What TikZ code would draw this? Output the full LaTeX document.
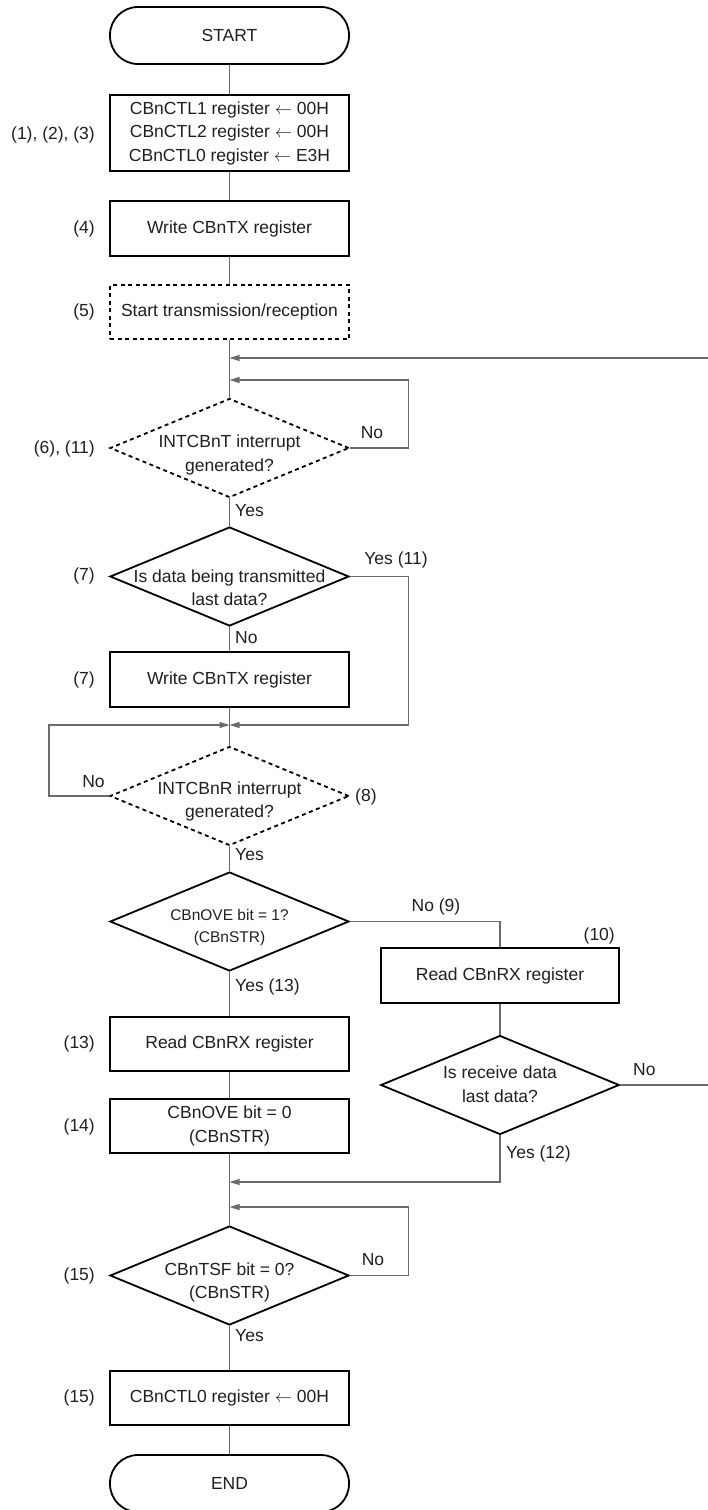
\documentclass[tikz,border=0pt]{standalone}
\usepackage{fontspec}
\setmainfont{Liberation Sans}
\usetikzlibrary{shapes.geometric,arrows.meta}
\begin{document}
\begin{tikzpicture}[x=1pt,y=-1pt,
  font=\fontsize{17.5}{23.5}\selectfont,
  every node/.style={text=black!88},
  box/.style={draw=black,line width=1.8pt,rectangle,minimum width=239pt,inner sep=0pt,align=center},
  dbox/.style={box,dash pattern=on 4pt off 3.5pt},
  term/.style={draw=black,line width=1.8pt,rectangle,rounded corners=28pt,minimum width=239pt,minimum height=57pt,inner sep=0pt},
  dia/.style={draw=black,line width=1.8pt,diamond,inner sep=0pt,minimum width=239pt,minimum height=99pt},
  ddia/.style={dia,dash pattern=on 4pt off 3.5pt},
  txt/.style={align=center,inner sep=0pt},
  lbl/.style={inner sep=0pt},
  conn/.style={draw=black!58,line width=1.3pt},
  arr/.style={conn,-{Triangle[length=10pt,width=6pt]}}
]
\useasboundingbox (0,0) rectangle (707,1510);

% main column
\node[term] (start) at (229.5,35.5) {START};
\node[box,minimum height=76pt] (b1) at (229.5,133) {CBnCTL1 register $\leftarrow$ 00H\\CBnCTL2 register $\leftarrow$ 00H\\CBnCTL0 register $\leftarrow$ E3H};
\node[box,minimum height=55pt] (b4) at (229.5,228.5) {Write CBnTX register};
\node[dbox,minimum height=54pt] (b5) at (229.5,312) {Start transmission/reception};
\node[ddia] (d6) at (229.5,448) {};
\node[txt] (t6) at (229.5,455) {INTCBnT interrupt\\generated?};
\node[dia] (d7) at (229.5,576.5) {};
\node[txt] (t7) at (229.5,587.5) {Is data being transmitted\\last data?};
\node[box,minimum height=55pt] (b7) at (229.5,679.5) {Write CBnTX register};
\node[ddia] (d8) at (229.5,796) {};
\node[txt] (t8) at (229.5,801.5) {INTCBnR interrupt\\generated?};
\node[dia] (d9) at (229.5,921.5) {};
\node[txt,font=\fontsize{15.5}{22}\selectfont] (t9) at (229.5,927) {CBnOVE bit = 1?\\(CBnSTR)};
\node[box,minimum height=54pt] (b13) at (229.5,1044) {Read CBnRX register};
\node[box,minimum height=54pt] (b14) at (229.5,1126) {CBnOVE bit = 0\\(CBnSTR)};
\node[dia] (d15) at (229.5,1275.5) {};
\node[txt] (t15) at (229.5,1282.5) {CBnTSF bit = 0?\\(CBnSTR)};
\node[box,minimum height=54pt] (b15) at (229.5,1398) {CBnCTL0 register $\leftarrow$ 00H};
\node[term] (end) at (229.5,1483.5) {END};

% right column
\node[box,minimum width=238.5pt,minimum height=55pt] (b10) at (500,975.5) {Read CBnRX register};
\node[dia,minimum width=238.5pt] (d12) at (500,1085) {};
\node[txt] (t12) at (500,1084) {Is receive data\\last data?};

% junctions
\coordinate (j1) at (229.5,358);
\coordinate (j2) at (229.5,380);
\coordinate (j3) at (229.5,725);
\coordinate (j4) at (229.5,1182);
\coordinate (j5) at (229.5,1207);

% step labels
\node[lbl,anchor=east] (l1) at (95,135) {(1), (2), (3)};
\node[lbl,anchor=east] (l4) at (95,229) {(4)};
\node[lbl,anchor=east] (l5) at (95,312) {(5)};
\node[lbl,anchor=east] (l6) at (95,449) {(6), (11)};
\node[lbl,anchor=east] (l7a) at (95,576) {(7)};
\node[lbl,anchor=east] (l7b) at (95,680) {(7)};
\node[lbl,anchor=west] (l8) at (355,797) {(8)};
\node[lbl,anchor=east] (l10) at (615,936) {(10)};
\node[lbl,anchor=east] (l13) at (95,1044) {(13)};
\node[lbl,anchor=east] (l14) at (95,1127) {(14)};
\node[lbl,anchor=east] (l15a) at (95,1276) {(15)};
\node[lbl,anchor=east] (l15b) at (95,1398) {(15)};

% branch labels
\node[lbl] (n6) at (372,433) {No};
\node[lbl,anchor=west] (y6) at (235,511) {Yes};
\node[lbl] (y7) at (396,560) {Yes (11)};
\node[lbl,anchor=west] (n7) at (235,638) {No};
\node[lbl] (n8) at (93.5,782) {No};
\node[lbl,anchor=west] (y8) at (235,855) {Yes};
\node[lbl] (n9) at (436,907) {No (9)};
\node[lbl,anchor=west] (y9) at (235,987) {Yes (13)};
\node[lbl,anchor=west] (n12) at (633,1070) {No};
\node[lbl,anchor=west] (y12) at (506,1154) {Yes (12)};
\node[lbl] (n15) at (373,1260) {No};
\node[lbl,anchor=west] (y15) at (235,1336) {Yes};

% connectors
\draw[conn] (start) -- (b1);
\draw[conn] (b1) -- (b4);
\draw[conn] (b4) -- (b5);
\draw[conn] (b5) -- (d6);
\draw[conn] (d6) -- (d7);
\draw[conn] (d7) -- (b7);
\draw[conn] (b7) -- (d8);
\draw[conn] (d8) -- (d9);
\draw[conn] (d9) -- (b13);
\draw[conn] (b13) -- (b14);
\draw[conn] (b14) -- (d15);
\draw[conn] (d15) -- (b15);
\draw[conn] (b15) -- (end);

\draw[arr] (d6.east) -- ++(58.5,0) |- (j2);
\draw[arr] (d7.east) -- ++(58.5,0) |- (j3);
\draw[arr] (d8.west) -- ++(-60,0) |- (j3);
\draw[conn] (d9.east) -| (b10.north);
\draw[conn] (b10) -- (d12);
\draw[arr] (d12.east) -- ++(89.5,0) |- (j1);
\draw[arr] (d12.south) |- (j4);
\draw[arr] (d15.east) -- ++(58.5,0) |- (j5);
\end{tikzpicture}
\end{document}
